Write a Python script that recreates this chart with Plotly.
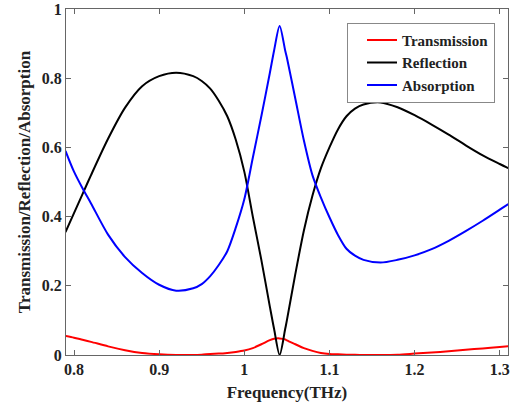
import plotly.graph_objects as go

freq = [0.79, 0.80, 0.81, 0.82, 0.84, 0.86, 0.88, 0.90, 0.92, 0.94, 0.95, 0.96, 0.97, 0.98, 0.99,
        1.00, 1.01, 1.02, 1.03, 1.035, 1.0415, 1.048, 1.05, 1.06, 1.07, 1.08, 1.09, 1.10, 1.11,
        1.12, 1.13, 1.14, 1.16, 1.18, 1.20, 1.22, 1.24, 1.26, 1.28, 1.30, 1.31]

transmission = [0.055, 0.050, 0.044, 0.038, 0.025, 0.014, 0.006, 0.002, 0.0, 0.0, 0.001, 0.003, 0.004, 0.006, 0.009,
                0.013, 0.020, 0.031, 0.043, 0.047, 0.048, 0.045, 0.042, 0.031, 0.020, 0.012, 0.006, 0.003, 0.002,
                0.001, 0.0005, 0.0, 0.0, 0.001, 0.004, 0.007, 0.011, 0.015, 0.019, 0.023, 0.025]

reflection = [0.355, 0.41, 0.465, 0.52, 0.625, 0.715, 0.777, 0.806, 0.816, 0.806, 0.792, 0.77, 0.735, 0.69, 0.622,
              0.53, 0.40, 0.275, 0.14, 0.075, 0.0, 0.075, 0.10, 0.235, 0.36, 0.46, 0.54, 0.60, 0.652,
              0.69, 0.712, 0.724, 0.73, 0.716, 0.693, 0.666, 0.637, 0.606, 0.577, 0.552, 0.540]

absorption = [0.59, 0.53, 0.482, 0.438, 0.348, 0.283, 0.237, 0.203, 0.186, 0.193, 0.205, 0.228, 0.26, 0.30, 0.368,
              0.45, 0.57, 0.69, 0.815, 0.88, 0.951, 0.88, 0.86, 0.74, 0.62, 0.52, 0.455, 0.398, 0.347,
              0.307, 0.287, 0.275, 0.267, 0.275, 0.288, 0.306, 0.330, 0.358, 0.388, 0.420, 0.436]

x_ticks = [0.8, 0.9, 1.0, 1.1, 1.2, 1.3]
x_tick_labels = ["0.8", "0.9", "1", "1.1", "1.2", "1.3"]
y_ticks = [0, 0.2, 0.4, 0.6, 0.8, 1.0]
y_tick_labels = ["0", "0.2", "0.4", "0.6", "0.8", "1"]

font_family = "Liberation Serif, Times New Roman, serif"

fig = go.Figure()
for name, vals, color in [("Transmission", transmission, "#ff0000"),
                          ("Reflection", reflection, "#000000"),
                          ("Absorption", absorption, "#0000ff")]:
    fig.add_trace(go.Scatter(x=freq, y=vals, mode="lines", name=name,
                             line=dict(color=color, width=2, shape="spline", smoothing=0.8)))

axis_common = dict(showline=True, linecolor="#666666", linewidth=1, mirror="ticks",
                   ticks="inside", ticklen=5, tickcolor="#666666", showgrid=False, zeroline=False,
                   automargin=False,
                   tickfont=dict(family=font_family, size=16, color="#222222", weight="bold"))

fig.update_layout(
    width=518, height=412,
    margin=dict(l=66, r=10, t=9, b=57),
    plot_bgcolor="white", paper_bgcolor="white",
    font=dict(family=font_family, color="#222222", weight="bold"),
    xaxis=dict(range=[0.7906, 1.3097], tickvals=x_ticks, ticktext=x_tick_labels,
               title=dict(text="Frequency(THz)", font=dict(family=font_family, size=17, weight="bold"), standoff=8),
               **axis_common),
    yaxis=dict(range=[0, 1], tickvals=y_ticks, ticktext=y_tick_labels,
               title=dict(text="Transmission/Reflection/Absorption", font=dict(family=font_family, size=17, weight="bold"), standoff=6),
               **axis_common),
    legend=dict(x=0.9706, y=0.96, xanchor="right", yanchor="top",
                bordercolor="#888888", borderwidth=1, bgcolor="white",
                font=dict(family=font_family, size=15, color="#222222", weight="bold"),
                tracegroupgap=0, itemwidth=30, indentation=14),
    showlegend=True,
)

fig.write_html("out.html", config={"displayModeBar": False},
               post_script="document.body.style.margin='0';")
